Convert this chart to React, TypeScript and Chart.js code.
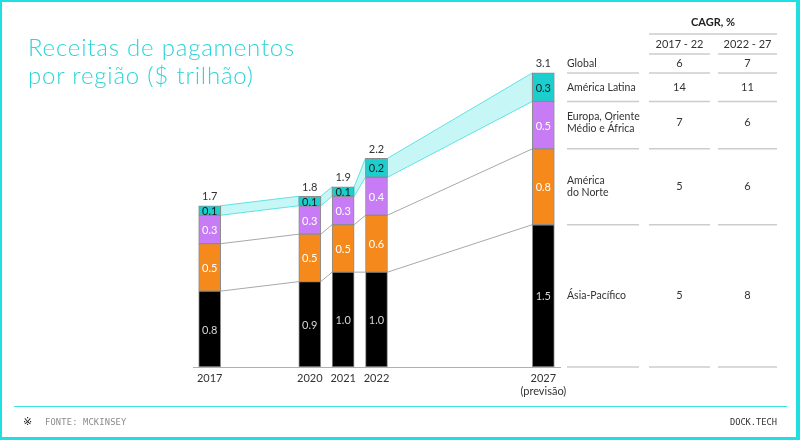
import React, { useEffect, useRef } from "react";
import { Chart, registerables } from "chart.js";

Chart.register(...registerables);

// ---- data ----
const years = [2017, 2020, 2021, 2022, 2027];
const asiaPacifico = [0.8, 0.9, 1.0, 1.0, 1.5];
const americaNorte = [0.5, 0.5, 0.5, 0.6, 0.8];
const europaOMA = [0.3, 0.3, 0.3, 0.4, 0.5];
const americaLatina = [0.1, 0.1, 0.1, 0.2, 0.3];
const totals = [1.7, 1.8, 1.9, 2.2, 3.1];
const tickLabels: (string | string[])[] = ["2017", "2020", "2021", "2022", ["2027", "(previsão)"]];

const cagrHeader = "CAGR, %";
const cagrPeriods = ["2017 - 22", "2022 - 27"];
const regionRows: (string | string[])[] = [
  "Global",
  "América Latina",
  ["Europa, Oriente", "Médio e África"],
  ["América", "do Norte"],
  "Ásia-Pacífico",
];
const cagr1722 = [6, 14, 7, 5, 5];
const cagr2227 = [7, 11, 6, 6, 8];

const FONT = "Lato, 'Open Sans', sans-serif";
const segColors = ["#000000", "#f6891b", "#c77cf6", "#1ccfcf"];
const segText = ["#d6d6d6", "#ffffff", "#ffffff", "#1a1a1a"];

const fmt = (v: number) => v.toFixed(1);

const connectorPlugin = {
  id: "connectors",
  beforeDatasetsDraw(chart: any) {
    const ctx = chart.ctx;
    const metas = [0, 1, 2, 3].map((d) => chart.getDatasetMeta(d).data);
    const n = years.length;
    ctx.save();
    for (let i = 0; i < n - 1; i++) {
      const a0 = metas[0][i], b0 = metas[0][i + 1];
      const xa = a0.x + a0.width / 2;
      const xb = b0.x - b0.width / 2;
      // cyan band
      const pa = metas[2][i], pb = metas[2][i + 1];
      const ca = metas[3][i], cb = metas[3][i + 1];
      ctx.beginPath();
      ctx.moveTo(xa, pa.y);
      ctx.lineTo(xb, pb.y);
      ctx.lineTo(xb, cb.y);
      ctx.lineTo(xa, ca.y);
      ctx.closePath();
      ctx.fillStyle = "#c6f6f6";
      ctx.fill();
      ctx.strokeStyle = "#5fe3e3";
      ctx.lineWidth = 1;
      ctx.stroke();
      // gray lines
      ctx.strokeStyle = "#a8a8a8";
      for (const d of [0, 1]) {
        const ea = metas[d][i], eb = metas[d][i + 1];
        ctx.beginPath();
        ctx.moveTo(xa, ea.y);
        ctx.lineTo(xb, eb.y);
        ctx.stroke();
      }
    }
    ctx.restore();
  },
};

const labelPlugin = {
  id: "segLabels",
  afterDatasetsDraw(chart: any) {
    const ctx = chart.ctx;
    ctx.save();
    ctx.textAlign = "center";
    ctx.textBaseline = "middle";
    ctx.font = `11px ${FONT}`;
    for (let d = 0; d < 4; d++) {
      const els = chart.getDatasetMeta(d).data;
      const values = chart.data.datasets[d].data;
      els.forEach((el: any, i: number) => {
        ctx.fillStyle = segText[d];
        ctx.fillText(fmt(values[i].y), el.x, (el.y + el.base) / 2 + 1);
      });
    }
    const top = chart.getDatasetMeta(3).data;
    ctx.fillStyle = "#333333";
    top.forEach((el: any, i: number) => {
      ctx.fillText(fmt(totals[i]), el.x, el.y - 9);
    });
    ctx.restore();
  },
};

const tablePlugin = {
  id: "cagrTable",
  afterDraw(chart: any) {
    const ctx = chart.ctx;
    const last = years.length - 1;
    const el = (d: number) => chart.getDatasetMeta(d).data[last];
    const cyan = el(3), purple = el(2), orange = el(1), black = el(0);
    const rows = [
      { center: cyan.y - 9, bottom: cyan.y },
      { center: (cyan.y + cyan.base) / 2, bottom: cyan.base },
      { center: (purple.y + purple.base) / 2 - 3, bottom: purple.base },
      { center: (orange.y + orange.base) / 2, bottom: orange.base },
      { center: (black.y + black.base) / 2, bottom: black.base },
    ];
    const cols = [
      [567, 639],
      [649, 710],
      [718, 777],
    ];
    ctx.save();
    ctx.strokeStyle = "#cccccc";
    ctx.lineWidth = 1.5;
    const hline = (x1: number, x2: number, y: number) => {
      ctx.beginPath();
      ctx.moveTo(x1, y);
      ctx.lineTo(x2, y);
      ctx.stroke();
    };
    // header
    ctx.fillStyle = "#222222";
    ctx.textBaseline = "middle";
    ctx.textAlign = "center";
    ctx.font = `bold 11px ${FONT}`;
    ctx.fillText(cagrHeader, (cols[1][0] + cols[2][1]) / 2, 22);
    hline(cols[1][0], cols[2][1], 34);
    ctx.font = `11px ${FONT}`;
    ctx.fillStyle = "#333333";
    ctx.fillText(cagrPeriods[0], (cols[1][0] + cols[1][1]) / 2, 44);
    ctx.fillText(cagrPeriods[1], (cols[2][0] + cols[2][1]) / 2, 44);
    hline(cols[1][0], cols[1][1], 54);
    hline(cols[2][0], cols[2][1], 54);
    // rows
    rows.forEach((r, i) => {
      const lab = regionRows[i];
      ctx.textAlign = "left";
      ctx.font = `10.5px ${FONT}`;
      ctx.fillStyle = "#333333";
      if (Array.isArray(lab)) {
        ctx.fillText(lab[0], cols[0][0], r.center - 6);
        ctx.fillText(lab[1], cols[0][0], r.center + 6);
      } else {
        ctx.fillText(lab, cols[0][0], r.center);
      }
      ctx.textAlign = "center";
      ctx.font = `11px ${FONT}`;
      ctx.fillText(String(cagr1722[i]), (cols[1][0] + cols[1][1]) / 2, r.center);
      ctx.fillText(String(cagr2227[i]), (cols[2][0] + cols[2][1]) / 2, r.center);
      for (const c of cols) hline(c[0], c[1], r.bottom);
    });
    ctx.restore();
  },
};

function ChartCanvas() {
  const ref = useRef<HTMLCanvasElement>(null);
  useEffect(() => {
    if (!ref.current) return;
    const mk = (vals: number[]) => vals.map((v, i) => ({ x: years[i], y: v }));
    const series = [asiaPacifico, americaNorte, europaOMA, americaLatina];
    const chart = new Chart(ref.current, {
      type: "bar",
      data: {
        datasets: series.map((s, d) => ({
          label: ["Ásia-Pacífico", "América do Norte", "Europa, Oriente Médio e África", "América Latina"][d],
          data: mk(s),
          backgroundColor: segColors[d],
          borderColor: "#8c8c8c",
          borderWidth: 1,
          borderSkipped: false,
          barThickness: 22,
          stack: "s",
        })),
      },
      options: {
        responsive: false,
        animation: false,
        layout: { padding: { left: 193, right: 240, top: 35, bottom: 33 } },
        plugins: { legend: { display: false }, tooltip: { enabled: false } },
        scales: {
          x: {
            type: "linear",
            min: 2016.5,
            max: 2027.5,
            offset: false,
            stacked: true,
            grid: { display: false, drawTicks: false, offset: false },
            border: { display: true, color: "#b0b0b0", width: 1 },
            afterBuildTicks: (scale: any) => {
              scale.ticks = years.map((v) => ({ value: v }));
            },
            afterFit: (scale: any) => {
              scale.height = 40;
            },
            ticks: {
              padding: 5,
              color: "#333333",
              font: { family: FONT, size: 11 },
              autoSkip: false,
              maxRotation: 0,
              callback: (value: any) => {
                const idx = years.indexOf(Number(value));
                return idx >= 0 ? tickLabels[idx] : "";
              },
            },
          },
          y: {
            stacked: true,
            min: 0,
            max: 3.5,
            display: false,
          },
        },
      } as any,
      plugins: [connectorPlugin, labelPlugin, tablePlugin],
    });
    return () => chart.destroy();
  }, []);
  return <canvas ref={ref} width={800} height={440} style={{ position: "absolute", left: 0, top: 0 }} />;
}

export default function App() {
  return (
    <div
      style={{
        position: "absolute",
        left: 0,
        top: 0,
        width: 800,
        height: 440,
        background: "#ffffff",
        overflow: "hidden",
      }}
    >
      <ChartCanvas />
      <div
        style={{
          position: "absolute",
          left: 28,
          top: 33,
          fontFamily: FONT,
          fontWeight: 300,
          fontSize: 24,
          letterSpacing: 0.8,
          lineHeight: "28px",
          color: "#2bd4d9",
          whiteSpace: "nowrap",
        }}
      >
        Receitas de pagamentos
        <br />
        por região ($ trilhão)
      </div>
      <div style={{ position: "absolute", left: 14, top: 406, width: 773, height: 1, background: "#3ee0e0" }} />
      <div
        style={{
          position: "absolute",
          left: 23,
          top: 415,
          fontFamily: "'DejaVu Sans', sans-serif",
          fontSize: 11,
          color: "#222",
        }}
      >
        ※
      </div>
      <div
        style={{
          position: "absolute",
          left: 45,
          top: 417,
          fontFamily: "'DejaVu Sans Mono', monospace",
          fontSize: 8.7,
          color: "#8a8a8a",
          letterSpacing: 0.2,
        }}
      >
        FONTE: MCKINSEY
      </div>
      <div
        style={{
          position: "absolute",
          right: 23,
          top: 417,
          fontFamily: "'DejaVu Sans Mono', monospace",
          fontSize: 8.7,
          color: "#333",
        }}
      >
        DOCK.TECH
      </div>
      <div
        style={{
          position: "absolute",
          left: 0,
          top: 0,
          width: 800,
          height: 440,
          boxSizing: "border-box",
          borderStyle: "solid",
          borderColor: "#1fe0e0",
          borderWidth: "2px 4px 3px 2px",
          pointerEvents: "none",
        }}
      />
    </div>
  );
}
